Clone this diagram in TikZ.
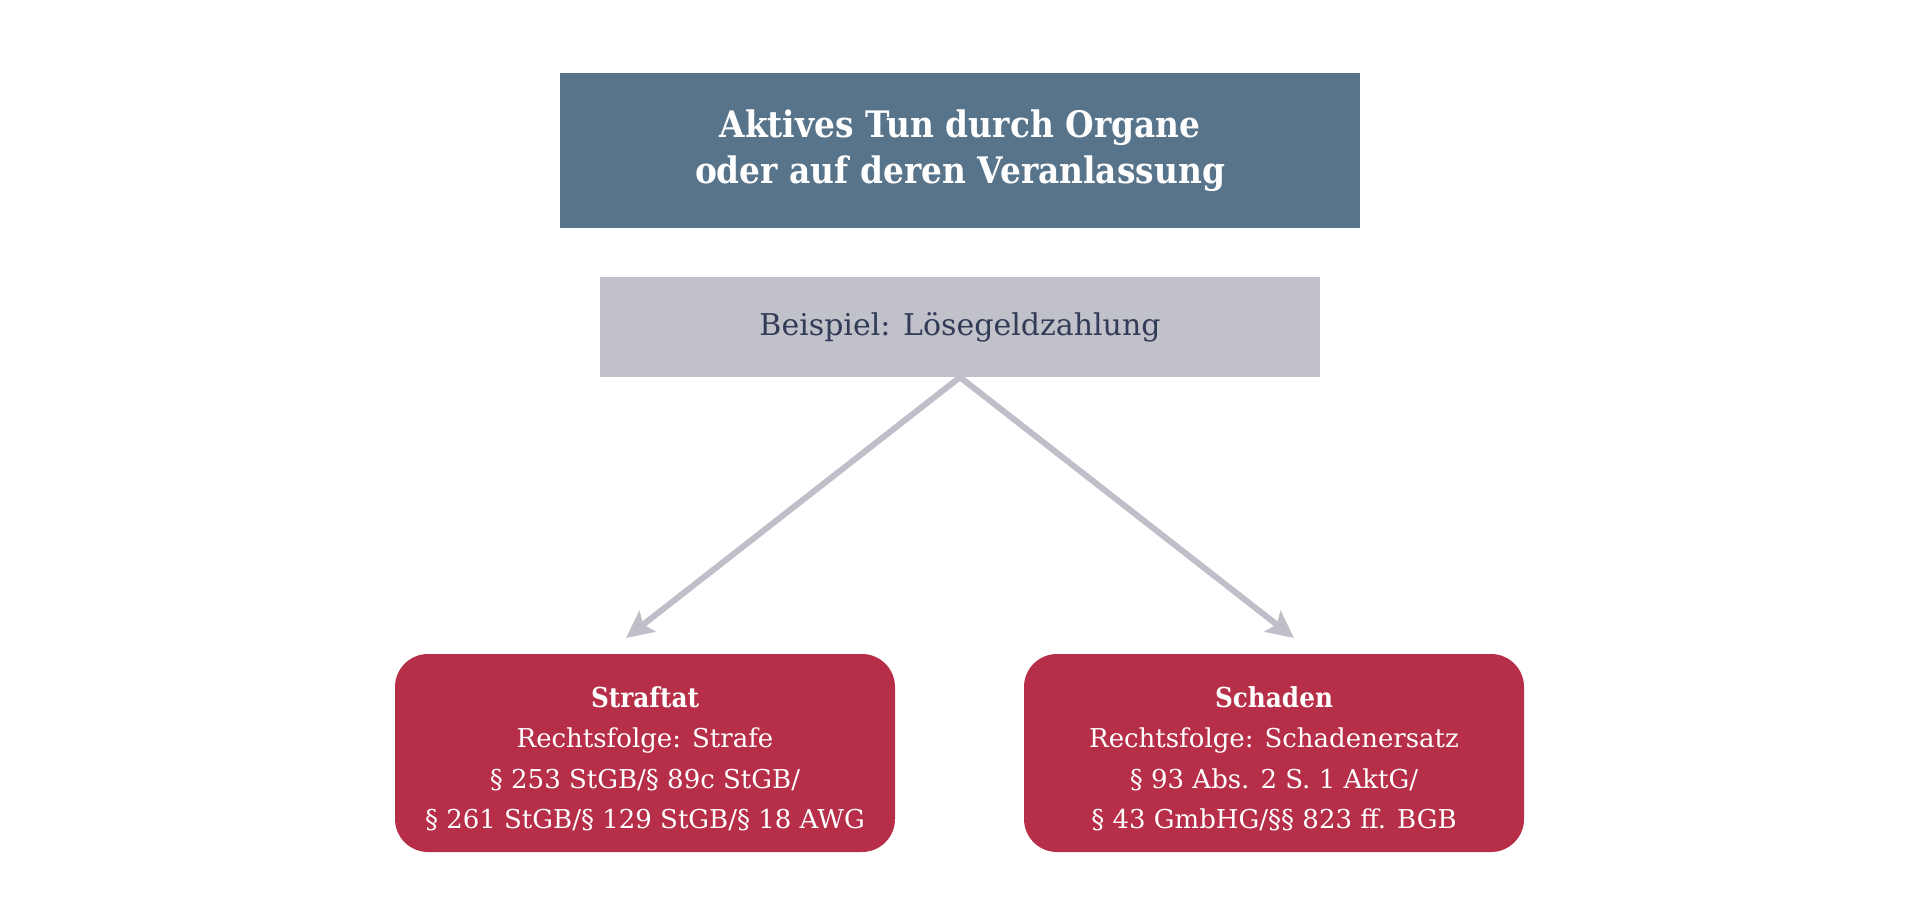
\documentclass[tikz,border=0pt]{standalone}
\usepackage{fontspec}
\setmainfont{DejaVu Serif}[BoldFeatures={FakeStretch=0.9}]
\usetikzlibrary{arrows.meta}
\definecolor{topblue}{RGB}{88,116,139}
\definecolor{greyfill}{RGB}{192,193,201}
\definecolor{navytext}{RGB}{50,60,88}
\definecolor{redfill}{RGB}{182,46,72}
\definecolor{arrowgrey}{RGB}{190,191,200}
\tikzset{
  topbox/.style={fill=topblue, text=white, inner sep=0pt, align=center,
    minimum width=800pt, minimum height=155pt,
    font=\fontsize{36.5}{46}\selectfont\bfseries},
  greybox/.style={fill=greyfill, text=navytext, inner sep=0pt, align=center,
    minimum width=720pt, minimum height=100pt,
    font=\fontsize{30}{36}\selectfont},
  redbox/.style={fill=redfill, inner sep=0pt,
    rounded corners=33pt, minimum width=500pt, minimum height=198pt},
  redtext/.style={text=white, inner sep=0pt, align=center,
    font=\fontsize{26}{40.5}\selectfont},
  headline/.style={font=\fontsize{27.5}{33}\selectfont\bfseries},
  arr/.style={draw=arrowgrey, line width=6pt,
    -{Stealth[length=27pt, width=26pt, inset=5pt]}}
}
\newcommand{\headtext}[1]{{\fontsize{27.5}{33}\selectfont\bfseries #1}}
\begin{document}
\begin{tikzpicture}[x=1pt,y=-1pt]
\useasboundingbox (0,0) rectangle (1920,920);
\node[topbox] (top) at (960,150.5) {Aktives Tun durch Organe\\oder auf deren Veranlassung};
\node[greybox] (ex) at (960,327) {Beispiel: Lösegeldzahlung};
\node[redbox] (straf) at (645,753) {};
\node[redbox] (schad) at (1274,753) {};
\node[redtext] (straftext) at ([yshift=-6pt]straf.center) {\headtext{Straftat}\\Rechtsfolge: Strafe\\§ 253 StGB/§ 89c StGB/\\§ 261 StGB/§ 129 StGB/§ 18 AWG};
\node[redtext] (schadtext) at ([yshift=-6pt]schad.center) {\headtext{Schaden}\\Rechtsfolge: Schadenersatz\\§ 93 Abs. 2 S. 1 AktG/\\§ 43 GmbHG/§§ 823 ff. BGB};
\coordinate (tipL) at (626,638);
\coordinate (tipR) at (1294,638);
\draw[arr] (ex.south) -- (tipL);
\draw[arr] (ex.south) -- (tipR);
\end{tikzpicture}
\end{document}
